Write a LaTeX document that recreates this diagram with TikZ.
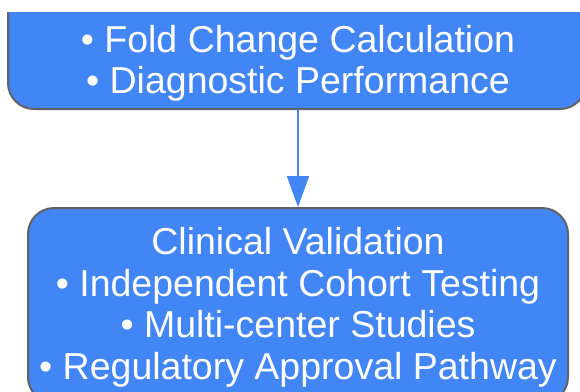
\documentclass[tikz,border=0pt]{standalone}
\usepackage{fontspec}
\setmainfont{Liberation Sans}
\usetikzlibrary{arrows.meta}
\definecolor{stageblue}{HTML}{4285F4}
\definecolor{stageline}{HTML}{5F6368}
\tikzset{
  stagebox/.style={draw=stageline, line width=2pt, fill=stageblue, rounded corners=26pt, inner sep=0pt},
  stagetext/.style={text=white, align=center, inner sep=0pt, font=\fontsize{37.5}{41.6}\selectfont},
  flowarrow/.style={draw=stageblue, line width=2pt, -{Triangle[length=31pt,width=22pt]}}
}
\begin{document}
\begin{tikzpicture}[x=1pt, y=-1pt]
\useasboundingbox (0,0) rectangle (580,391);
\clip (0,12) rectangle (580,391);
\node[stagebox, minimum width=578pt, minimum height=170pt, anchor=south] (analysis) at (297,110) {};
\node[stagebox, minimum width=540pt, minimum height=195pt, anchor=north] (validation) at (298,207) {};
\node[stagetext] (analysistext) at (298,63.4) {• Fold Change Calculation\\• Diagnostic Performance};
\node[stagetext] (validationtext) at (298,307.2) {Clinical Validation\\• Independent Cohort Testing\\• Multi-center Studies\\• Regulatory Approval Pathway};
\draw[flowarrow] (validation.north |- analysis.south) -- (validation.north);
\end{tikzpicture}
\end{document}
